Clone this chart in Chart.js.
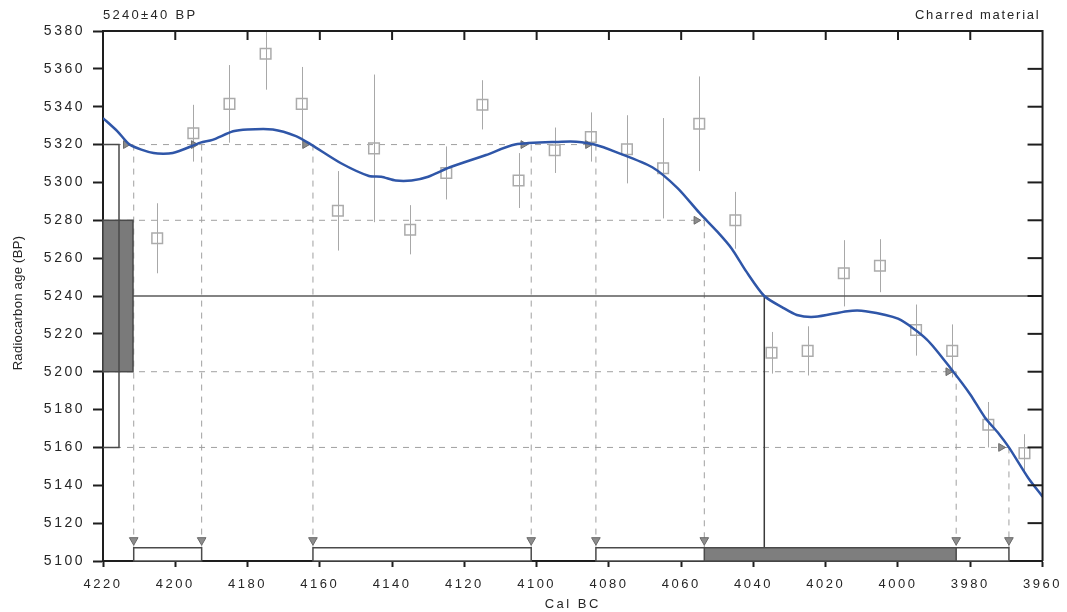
<!DOCTYPE html>
<html lang="en">
  <head>
    <meta charset="UTF-8" />
    <title>Radiocarbon calibration 5240±40 BP</title>
    <script src="https://cdn.jsdelivr.net/npm/chart.js"></script>
    <style>
      html, body { margin: 0; padding: 0; background: #fff; }
      canvas { display: block; }
    </style>
  </head>
  <body>
    <canvas id="calChart" width="1067" height="612"></canvas>
    <script>
      // calibration curve, cal BC -> radiocarbon age BP
      const curveYears = [4220, 4216, 4212.6, 4206, 4200.7, 4193, 4189.7, 4184, 4180, 4173, 4166.6, 4162.4, 4154, 4146.4, 4143, 4139, 4134.6, 4130, 4124, 4114, 4106, 4093, 4089, 4084, 4078, 4068, 4061, 4055, 4050, 4046, 4042, 4037, 4032, 4028, 4023, 4014, 4009, 4000, 3992, 3984.7, 3980, 3976, 3972, 3969.3, 3964, 3960];
      const curveBP = [5334, 5327, 5320, 5315.5, 5315.5, 5321, 5322.5, 5327, 5328, 5328, 5324.5, 5320, 5310, 5303.4, 5303, 5301, 5301, 5303, 5308, 5314.5, 5320, 5321.5, 5321.5, 5320, 5316, 5308, 5297, 5284, 5274, 5265, 5253, 5240, 5234, 5230, 5229, 5232, 5232, 5228, 5217, 5200, 5188, 5176, 5167, 5160, 5144, 5134];

      // decadal measurements with 1 sigma errors
      const obsYears = [4205, 4195, 4185, 4175, 4165, 4155, 4145, 4135, 4125, 4115, 4105, 4095, 4085, 4075, 4065, 4055, 4045, 4035, 4025, 4015, 4005, 3995, 3985, 3975, 3965];
      const obsBP = [5270.5, 5326, 5341.5, 5368, 5341.5, 5285, 5318, 5275, 5305, 5341, 5301, 5317, 5324, 5317.5, 5307.5, 5331, 5280, 5210, 5211, 5252, 5256, 5222, 5211, 5172, 5157];
      const obsErr = [18.5, 15, 20.5, 19, 19.5, 21, 39, 13, 14, 13, 14.5, 12, 13, 18, 26.5, 25, 15, 11, 13, 17.5, 14, 13.5, 14, 12, 10];

      // the sample
      const sampleBP = 5240;
      const sampleErr = 40;
      const interceptYear = 4037;

      // where the sigma levels cross the curve
      const crossYears = [4211.5, 4192.7, 4161.9, 4101.5, 4083.6, 4053.6, 3983.9, 3969.3];
      const crossBP = [5320, 5320, 5320, 5320, 5320, 5280, 5200, 5160];

      // calibrated ranges
      const ranges2s = [[4211.5, 4192.7], [4161.9, 4101.5], [4083.6, 3969.3]];
      const ranges1s = [[4053.6, 3983.9]];
      const rangeBarTop = 5107;

      const xTicks = [4220, 4200, 4180, 4160, 4140, 4120, 4100, 4080, 4060, 4040, 4020, 4000, 3980, 3960];
      const yTicks = [5100, 5120, 5140, 5160, 5180, 5200, 5220, 5240, 5260, 5280, 5300, 5320, 5340, 5360, 5380];

      const FONT = "'Liberation Sans', Arial, sans-serif";
      const TEXT = "#262626";
      const DASH_GREY = "#a0a0a0";

      function seg(points, color, width, dash, order) {
        return {
          type: "line",
          data: points,
          borderColor: color,
          borderWidth: width,
          borderDash: dash || [],
          pointRadius: 0,
          fill: false,
          tension: 0,
          order: order,
        };
      }

      const datasets = [];

      // calibration curve
      datasets.push({
        type: "line",
        data: curveYears.map((yr, i) => ({ x: yr, y: curveBP[i] })),
        borderColor: "#2f56a8",
        borderWidth: 2.5,
        pointRadius: 0,
        fill: false,
        tension: 0.25,
        order: 0,
      });

      // measurement squares
      datasets.push({
        type: "scatter",
        data: obsYears.map((yr, i) => ({ x: yr, y: obsBP[i] })),
        pointStyle: "rect",
        pointRadius: 7.5,
        backgroundColor: "rgba(255,255,255,0)",
        borderColor: "#ababab",
        borderWidth: 1.5,
        order: 2,
      });

      // dashed levels: from left edge to the last crossing of that level
      [...new Set(crossBP)].forEach((lvl) => {
        const last = Math.min(...crossYears.filter((_, i) => crossBP[i] === lvl));
        datasets.push(seg([{ x: 4220, y: lvl }, { x: last, y: lvl }], DASH_GREY, 1, [6, 6], 6));
      });

      // dashed verticals down to the range bars
      crossYears.forEach((yr, i) => {
        datasets.push(seg([{ x: yr, y: crossBP[i] }, { x: yr, y: rangeBarTop }], DASH_GREY, 1, [6, 6], 6));
      });

      // sample level and intercept
      datasets.push(seg([{ x: 4220, y: sampleBP }, { x: 3960, y: sampleBP }], "#5a5a5a", 1.5, [], 5));
      datasets.push(seg([{ x: interceptYear, y: sampleBP }, { x: interceptYear, y: rangeBarTop }], "#3a3a3a", 1.5, [], 5));

      // arrows pointing at the crossings
      datasets.push({
        type: "scatter",
        data: crossYears.map((yr, i) => ({ x: yr + 2.2, y: crossBP[i] })),
        pointStyle: "triangle",
        rotation: 90,
        pointRadius: 4.5,
        backgroundColor: "#8c8c8c",
        borderColor: "#6a6a6a",
        borderWidth: 1,
        order: 1,
      });
      datasets.push({
        type: "scatter",
        data: crossYears.map((yr) => ({ x: yr, y: 5111 })),
        pointStyle: "triangle",
        rotation: 180,
        pointRadius: 5,
        backgroundColor: "#8c8c8c",
        borderColor: "#6a6a6a",
        borderWidth: 1,
        order: 1,
      });

      const extras = {
        id: "extras",
        beforeDraw(chart) {
          chart.ctx.letterSpacing = "2.5px";
        },
        beforeDatasetsDraw(chart) {
          const { ctx, chartArea, scales } = chart;
          const x = scales.x, y = scales.y;
          ctx.save();
          ctx.beginPath();
          ctx.rect(chartArea.left, chartArea.top, chartArea.right - chartArea.left, chartArea.bottom - chartArea.top);
          ctx.clip();
          ctx.strokeStyle = "#a8a8a8";
          ctx.lineWidth = 1;
          obsYears.forEach((yr, i) => {
            const px = Math.round(x.getPixelForValue(yr)) + 0.5;
            ctx.beginPath();
            ctx.moveTo(px, y.getPixelForValue(obsBP[i] + obsErr[i]));
            ctx.lineTo(px, y.getPixelForValue(obsBP[i] - obsErr[i]));
            ctx.stroke();
          });
          ctx.restore();
        },
        afterDatasetsDraw(chart) {
          const { ctx, chartArea, scales } = chart;
          const x = scales.x, y = scales.y;
          ctx.save();
          ctx.lineWidth = 1.5;
          ctx.strokeStyle = "#4a4a4a";

          // calibrated range bars
          const yb = y.getPixelForValue(5100), yt = y.getPixelForValue(rangeBarTop);
          ranges2s.forEach(([a, b]) => {
            const xa = x.getPixelForValue(a), xb = x.getPixelForValue(b);
            ctx.fillStyle = "#fff";
            ctx.fillRect(xa, yt, xb - xa, yb - yt);
            ctx.strokeRect(xa, yt, xb - xa, yb - yt);
          });
          ranges1s.forEach(([a, b]) => {
            const xa = x.getPixelForValue(a), xb = x.getPixelForValue(b);
            ctx.fillStyle = "#7e7e7e";
            ctx.fillRect(xa, yt, xb - xa, yb - yt);
            ctx.strokeRect(xa, yt, xb - xa, yb - yt);
          });

          // sample distribution on the y axis
          const left = chartArea.left;
          const b1 = y.getPixelForValue(sampleBP + sampleErr), b2 = y.getPixelForValue(sampleBP - sampleErr);
          ctx.fillStyle = "#7a7a7a";
          ctx.fillRect(left, b1, 30, b2 - b1);
          ctx.strokeRect(left, b1, 30, b2 - b1);
          const c1 = y.getPixelForValue(sampleBP + 2 * sampleErr), c2 = y.getPixelForValue(sampleBP - 2 * sampleErr);
          ctx.beginPath();
          ctx.moveTo(left, c1);
          ctx.lineTo(left + 16, c1);
          ctx.lineTo(left + 16, c2);
          ctx.lineTo(left, c2);
          ctx.stroke();
          ctx.restore();
        },
        afterDraw(chart) {
          const { ctx, chartArea, scales } = chart;
          const x = scales.x, y = scales.y;
          ctx.save();
          ctx.strokeStyle = "#1e1e1e";
          ctx.lineWidth = 2;
          ctx.beginPath();
          ctx.moveTo(chartArea.left, chartArea.top);
          ctx.lineTo(chartArea.right, chartArea.top);
          ctx.lineTo(chartArea.right, chartArea.bottom);
          ctx.stroke();
          xTicks.slice(1, -1).forEach((v) => {
            const px = x.getPixelForValue(v);
            ctx.beginPath();
            ctx.moveTo(px, chartArea.top);
            ctx.lineTo(px, chartArea.top + 9);
            ctx.stroke();
          });
          yTicks.slice(1, -1).forEach((v) => {
            const py = y.getPixelForValue(v);
            ctx.beginPath();
            ctx.moveTo(chartArea.right, py);
            ctx.lineTo(chartArea.right - 15, py);
            ctx.stroke();
          });

          ctx.fillStyle = TEXT;
          ctx.font = "13px " + FONT;
          ctx.textBaseline = "middle";
          ctx.letterSpacing = "2.3px";
          ctx.textAlign = "left";
          ctx.fillText("5240±40 BP", chartArea.left, 15);
          ctx.letterSpacing = "1.8px";
          ctx.textAlign = "right";
          ctx.fillText("Charred material", chartArea.right - 2, 15);

          ctx.letterSpacing = "0.3px";
          ctx.translate(18, 303);
          ctx.rotate(-Math.PI / 2);
          ctx.textAlign = "center";
          ctx.fillText("Radiocarbon age (BP)", 0, 0);
          ctx.restore();
          ctx.letterSpacing = "0px";
        },
      };

      new Chart(document.getElementById("calChart"), {
        type: "scatter",
        data: { datasets: datasets },
        options: {
          responsive: false,
          animation: false,
          events: [],
          devicePixelRatio: 1,
          layout: { padding: { top: 31, right: 20, left: 0, bottom: 0 } },
          plugins: { legend: { display: false }, tooltip: { enabled: false } },
          scales: {
            x: {
              type: "linear",
              reverse: true,
              min: 3960,
              max: 4220,
              afterBuildTicks: (s) => { s.ticks = xTicks.map((v) => ({ value: v })); },
              afterFit: (s) => { s.height = 51; },
              ticks: {
                color: TEXT,
                padding: 10,
                maxRotation: 0,
                autoSkip: false,
                font: { size: 13, family: FONT },
                callback: (v) => String(v),
              },
              grid: { drawOnChartArea: false, tickLength: 6, tickWidth: 2, tickColor: "#1e1e1e" },
              border: { color: "#1e1e1e", width: 2 },
              title: {
                display: true,
                text: "Cal BC",
                color: TEXT,
                font: { size: 13, family: FONT },
                padding: { top: 0, bottom: 0 },
              },
            },
            y: {
              type: "linear",
              min: 5100,
              max: 5380,
              afterBuildTicks: (s) => { s.ticks = yTicks.map((v) => ({ value: v })); },
              afterFit: (s) => { s.width = 103; },
              ticks: {
                color: TEXT,
                padding: 8,
                font: { size: 14, family: FONT },
                callback: (v) => String(v),
              },
              grid: { drawOnChartArea: false, tickLength: 10, tickWidth: 2, tickColor: "#1e1e1e" },
              border: { color: "#1e1e1e", width: 2 },
            },
          },
        },
        plugins: [extras],
      });
    </script>
  </body>
</html>
